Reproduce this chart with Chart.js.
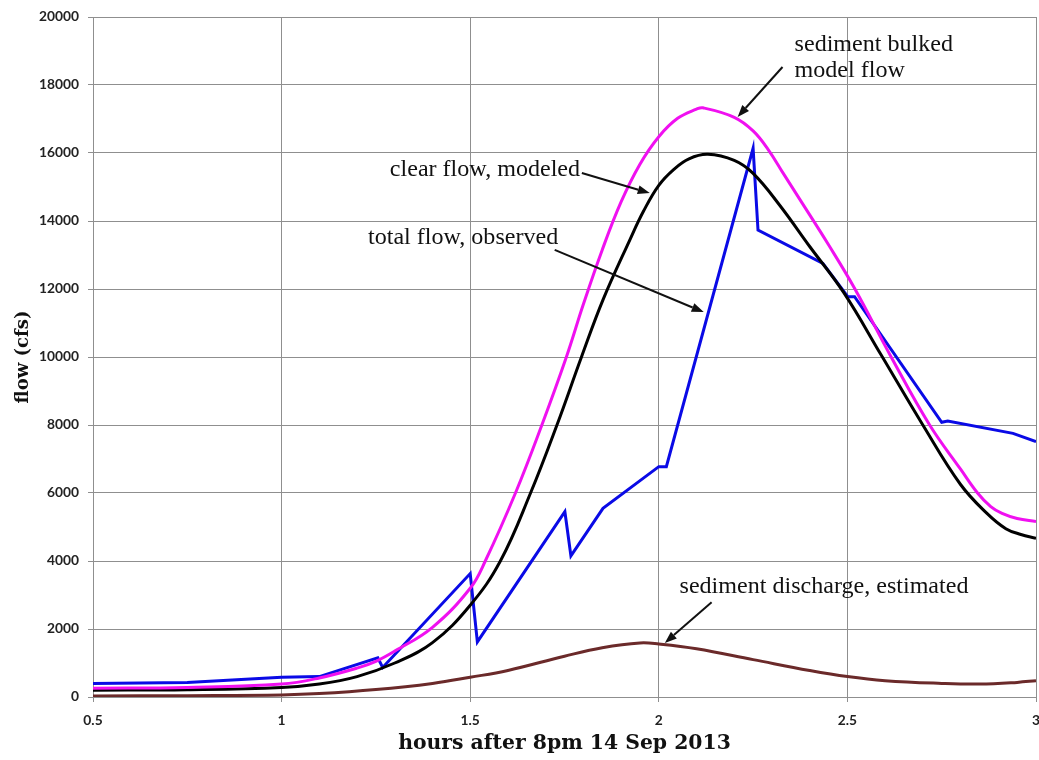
<!DOCTYPE html>
<html><head><meta charset="utf-8">
<script src="https://cdn.jsdelivr.net/npm/chart.js@4.4.1/dist/chart.umd.min.js"></script>
<style>html,body{margin:0;padding:0;background:#fff}#wrap{width:1039px;height:760px}</style>
</head><body><div id="wrap"><canvas id="c" width="1039" height="760"></canvas></div>
<script>
// ---------- data ----------
const xTickLabels = ['0.5', '1', '1.5', '2', '2.5', '3'];
const yTickLabels = ['0', '2000', '4000', '6000', '8000', '10000', '12000', '14000', '16000', '18000', '20000'];

const observedHours = [0.5, 0.75, 1.0, 1.1, 1.255, 1.268, 1.5, 1.519, 1.751, 1.767, 1.852, 2.0, 2.02, 2.25, 2.263, 2.435, 2.501, 2.519, 2.75, 2.766, 2.939, 3.0];
const observedFlow  = [400, 430, 580, 600, 1150, 870, 3630, 1620, 5450, 4150, 5550, 6775, 6775, 16140, 13735, 12755, 11775, 11775, 8080, 8120, 7755, 7510];

const clearHours = [0.5, 0.75, 1.0, 1.1, 1.2, 1.3, 1.4, 1.5, 1.58, 1.66, 1.73, 1.795, 1.852, 1.923, 1.96, 2.0, 2.04, 2.08, 2.13, 2.2, 2.25, 2.32, 2.4, 2.49, 2.59, 2.7, 2.8, 2.87, 2.92, 2.96, 3.0];
const clearFlow  = [200, 215, 280, 380, 600, 1000, 1600, 2700, 4000, 6000, 8000, 10000, 11680, 13440, 14300, 15050, 15520, 15830, 15960, 15780, 15400, 14470, 13250, 11900, 10050, 8000, 6250, 5400, 4950, 4780, 4670];

const bulkedHours = [0.5, 0.75, 1.0, 1.1, 1.2, 1.25, 1.3, 1.4, 1.5, 1.54, 1.62, 1.69, 1.755, 1.8, 1.85, 1.9, 1.95, 2.0, 2.05, 2.1, 2.117, 2.2, 2.25, 2.29, 2.33, 2.373, 2.45, 2.52, 2.616, 2.718, 2.8, 2.845, 2.88, 2.91, 2.95, 3.0];
const bulkedFlow  = [260, 280, 380, 560, 850, 1050, 1350, 2050, 3200, 4000, 6000, 8000, 10000, 11550, 13150, 14560, 15670, 16480, 17020, 17290, 17330, 17050, 16650, 16100, 15400, 14650, 13300, 12000, 10000, 8000, 6700, 6000, 5600, 5400, 5250, 5160];

const sedimentHours = [0.5, 0.75, 1.0, 1.1, 1.25, 1.4, 1.5, 1.6, 1.75, 1.85, 1.95, 2.0, 2.1, 2.25, 2.4, 2.5, 2.6, 2.75, 2.85, 2.95, 3.0];
const sedimentFlow  = [30, 40, 60, 100, 220, 400, 580, 780, 1200, 1450, 1590, 1560, 1420, 1100, 780, 600, 480, 400, 380, 430, 480];

const seriesNames = ['total flow, observed', 'clear flow, modeled', 'sediment bulked model flow', 'sediment discharge, estimated'];

// ---------- helpers ----------
function pts(xs, ys) { return xs.map((x, i) => ({ x: x, y: ys[i] })); }
const mctx = document.createElement('canvas').getContext('2d');
function fitSize(text, weight, family, target) {
  mctx.font = weight + ' 100px ' + family;
  return 100 * target / mctx.measureText(text).width;
}
const SERIF = '"Liberation Serif", "DejaVu Serif", serif';
const TSERIF = '"DejaVu Serif", "Liberation Serif", serif';
const SANS = 'Lato, "Liberation Sans", sans-serif';
const annFont = fitSize('sediment discharge, estimated', 'normal', SERIF, 289);
const xTitleSize = fitSize('hours after 8pm 14 Sep 2013', 'bold', TSERIF, 333);
const yTitleSize = fitSize('flow (cfs)', 'bold', TSERIF, 93);
const tickSize = fitSize('20000', 'bold', SANS, 40);

// annotation layout (data coordinates)
const notes = [
  { lines: ['sediment bulked', 'model flow'], x: 2.36, y: [19180, 18420], from: [2.328, 18530], to: [2.209, 17060] },
  { lines: ['clear flow, modeled'], x: 1.287, y: [15500], from: [1.796, 15410], to: [1.976, 14820] },
  { lines: ['total flow, observed'], x: 1.229, y: [13500], from: [1.724, 13150], to: [2.119, 11320] },
  { lines: ['sediment discharge, estimated'], x: 2.055, y: [3235], from: [2.140, 2790], to: [2.016, 1590] }
];

const notePlugin = {
  id: 'notes',
  afterDatasetsDraw(chart) {
    const { ctx, scales: { x, y } } = chart;
    ctx.save();
    ctx.fillStyle = '#111';
    ctx.strokeStyle = '#111';
    ctx.font = 'normal ' + annFont.toFixed(2) + 'px ' + SERIF;
    ctx.textBaseline = 'middle';
    ctx.textAlign = 'left';
    notes.forEach(n => {
      n.lines.forEach((t, i) => ctx.fillText(t, x.getPixelForValue(n.x), y.getPixelForValue(n.y[i])));
      const x1 = x.getPixelForValue(n.from[0]), y1 = y.getPixelForValue(n.from[1]);
      const x2 = x.getPixelForValue(n.to[0]), y2 = y.getPixelForValue(n.to[1]);
      const a = Math.atan2(y2 - y1, x2 - x1), L = 12, W = 4.5;
      const bx = x2 - L * Math.cos(a), by = y2 - L * Math.sin(a);
      ctx.lineWidth = 2;
      ctx.beginPath(); ctx.moveTo(x1, y1); ctx.lineTo(bx, by); ctx.stroke();
      ctx.beginPath();
      ctx.moveTo(x2, y2);
      ctx.lineTo(bx + W * Math.sin(a), by - W * Math.cos(a));
      ctx.lineTo(bx - W * Math.sin(a), by + W * Math.cos(a));
      ctx.closePath(); ctx.fill();
    });
    ctx.restore();
  }
};

const GRID = '#8f8f8f';
new Chart(document.getElementById('c'), {
  type: 'line',
  data: {
    datasets: [
      { label: seriesNames[3], data: pts(sedimentHours, sedimentFlow), borderColor: '#6b2a2a', borderWidth: 3, tension: 0.4, pointRadius: 0 },
      { label: seriesNames[2], data: pts(bulkedHours, bulkedFlow), borderColor: '#f010f0', borderWidth: 3, tension: 0.4, pointRadius: 0 },
      { label: seriesNames[1], data: pts(clearHours, clearFlow), borderColor: '#000000', borderWidth: 3, tension: 0.4, pointRadius: 0 },
      { label: seriesNames[0], data: pts(observedHours, observedFlow), borderColor: '#0a0ae6', borderWidth: 3, tension: 0, pointRadius: 0 }
    ]
  },
  options: {
    responsive: false,
    animation: false,
    devicePixelRatio: 1,
    layout: { padding: { left: 0, right: 3, top: 17, bottom: 0 } },
    plugins: { legend: { display: false }, tooltip: { enabled: false } },
    scales: {
      x: {
        type: 'linear', min: 0.5, max: 3,
        afterFit: s => { s.height = 63; s.paddingLeft = 0; s.paddingRight = 0; },
        afterBuildTicks: s => { s.ticks = xTickLabels.map(v => ({ value: parseFloat(v) })); },
        ticks: { callback: (v) => xTickLabels.find(t => parseFloat(t) === v), color: '#222', padding: 10, maxRotation: 0, font: { family: SANS, weight: 'bold', size: tickSize } },
        grid: { color: GRID, tickLength: 5, lineWidth: 1 },
        border: { color: GRID },
        title: { display: true, text: 'hours after 8pm 14 Sep 2013', color: '#111', font: { family: TSERIF, weight: 'bold', size: xTitleSize }, padding: { top: 0, bottom: 4 } }
      },
      y: {
        min: 0, max: 20000,
        afterFit: s => { s.width = 93; s.paddingTop = 0; s.paddingBottom = 0; },
        afterBuildTicks: s => { s.ticks = yTickLabels.map(v => ({ value: parseFloat(v) })); },
        ticks: { callback: (v) => yTickLabels.find(t => parseFloat(t) === v), color: '#222', padding: 9, font: { family: SANS, weight: 'bold', size: tickSize } },
        grid: { color: GRID, tickLength: 5, lineWidth: 1 },
        border: { color: GRID },
        title: { display: true, text: 'flow (cfs)', color: '#111', font: { family: TSERIF, weight: 'bold', size: yTitleSize }, padding: { top: 12, bottom: 0 } }
      }
    }
  },
  plugins: [notePlugin]
});
</script></body></html>
